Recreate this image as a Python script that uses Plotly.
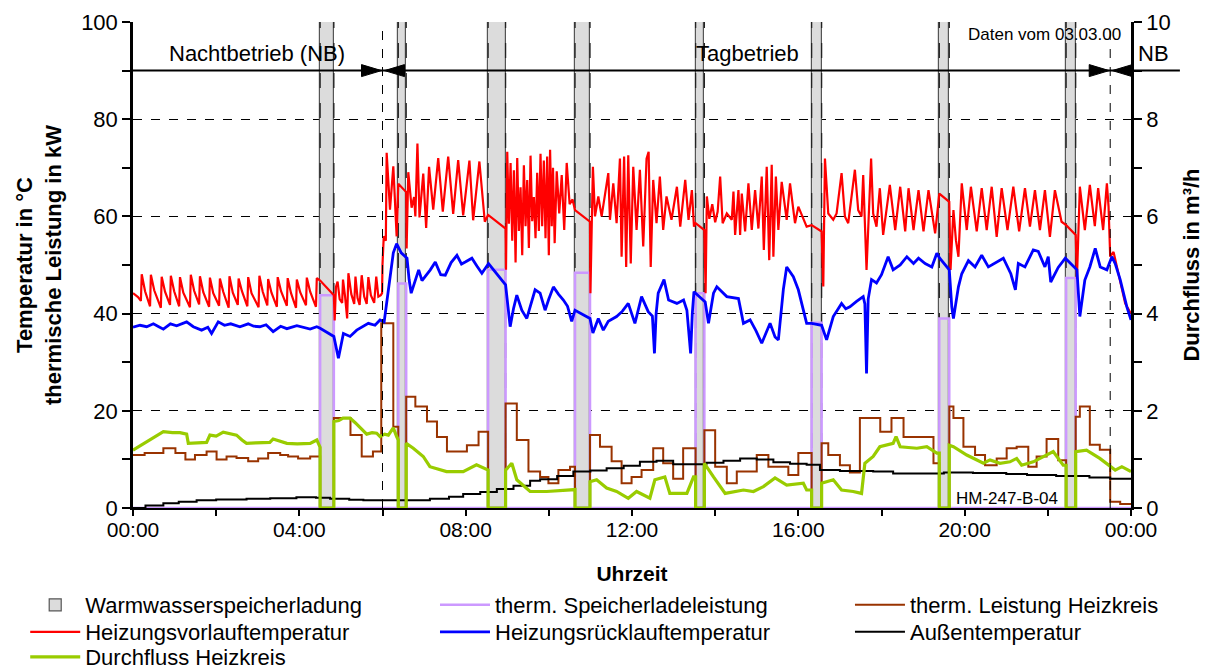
import plotly.graph_objects as go

# ---------------- data (time in hours of the day) ----------------
# Warmwasserspeicherladung: start / end of each storage charging period
band_start = [4.50, 6.38, 8.54, 10.63, 13.53, 16.32, 19.39, 22.44]
band_end = [4.83, 6.57, 8.96, 10.99, 13.74, 16.56, 19.63, 22.67]
# therm. Speicherladeleistung during each charging period (kW)
charge_power = [43.8, 46.2, 49.0, 48.4, 44.2, 38.1, 39.0, 47.3]

# Nacht-/Tagbetrieb switch times
switch_day = 6.0
switch_night = 23.5

# therm. Leistung Heizkreis (kW), step values starting at each time
heat_t = [0.0, 0.28, 0.73, 1.02, 1.26, 1.49, 1.77, 2.01, 2.25, 2.49, 2.77, 3.01, 3.25, 3.54, 3.73, 3.97,
          4.26, 4.50, 4.83, 5.23, 5.50, 5.77, 5.97, 6.26, 6.38, 6.57, 6.79, 7.07, 7.31, 7.55, 8.03,
          8.31, 8.54, 8.96, 9.23, 9.51, 9.79, 9.99, 10.23, 10.51, 10.63, 10.99, 11.23, 11.51, 11.75,
          11.99, 12.23, 12.51, 12.75, 12.99, 13.23, 13.53, 13.74, 14.00, 14.28, 14.52, 15.00, 15.28,
          15.76, 16.00, 16.32, 16.56, 16.72, 17.00, 17.24, 17.48, 17.97, 18.24, 18.53, 19.25, 19.39,
          19.63, 19.73, 19.97, 20.25, 20.49, 20.77, 21.01, 21.25, 21.53, 21.73, 21.97, 22.25, 22.44,
          22.67, 22.77, 23.01, 23.25, 23.50, 23.74, 24.0]
heat_v = [10.9, 11.3, 12.3, 11.3, 10.0, 10.9, 11.6, 10.0, 10.6, 10.3, 9.6, 10.2, 11.3, 10.9, 10.6, 10.2,
          10.6, 0.0, 18.5, 15.0, 10.6, 11.6, 38.0, 16.7, 0.0, 22.9, 20.9, 17.8, 14.6, 11.6, 12.9,
          15.7, 0.0, 21.5, 14.0, 7.5, 6.4, 5.1, 7.8, 8.5, 0.0, 15.0, 12.6, 9.6, 5.1,
          6.4, 7.8, 12.3, 9.2, 6.0, 12.3, 0.0, 16.0, 8.5, 5.1, 7.5, 10.9, 8.5,
          6.8, 11.3, 0.0, 13.3, 10.9, 8.8, 7.3, 18.5, 15.7, 18.5, 14.6, 9.2, 0.0,
          20.9, 18.5, 12.6, 10.9, 8.8, 10.2, 12.3, 12.6, 8.5, 10.6, 14.2, 9.8, 0.0,
          18.8, 20.9, 13.0, 12.0, 1.3, 0.8, 0.8]

# Heizungsvorlauftemperatur (°C)
flow_t = [0.00, 0.12, 0.19, 0.21, 0.29, 0.41, 0.43, 0.51, 0.67, 0.69, 0.77, 0.89, 0.91, 0.99, 1.11, 1.13,
          1.21, 1.37, 1.39, 1.47, 1.59, 1.61, 1.69, 1.83, 1.85, 1.93, 2.07, 2.09, 2.17, 2.30, 2.32, 2.40,
          2.52, 2.54, 2.62, 2.75, 2.77, 2.85, 3.02, 3.04, 3.12, 3.23, 3.25, 3.33, 3.46, 3.48, 3.56, 3.70,
          3.72, 3.80, 3.92, 3.94, 4.02, 4.16, 4.18, 4.26, 4.40, 4.42, 4.50,
          4.83, 4.85, 4.88, 4.92, 4.97, 5.03, 5.05, 5.10, 5.15, 5.18, 5.25, 5.32, 5.35, 5.40, 5.45, 5.50,
          5.56, 5.62, 5.66, 5.72, 5.80, 5.85, 5.90, 5.96, 5.99, 6.00, 6.03, 6.08, 6.10, 6.18, 6.26, 6.34,
          6.38, 6.57, 6.58, 6.62, 6.70, 6.76, 6.79, 6.84, 6.89, 6.98, 7.05, 7.12, 7.22, 7.34, 7.45, 7.58,
          7.70, 7.82, 7.94, 8.09, 8.18, 8.33, 8.46, 8.54,
          8.96, 8.97, 9.00, 9.04, 9.08, 9.12, 9.16, 9.20, 9.24, 9.28, 9.32, 9.36, 9.40, 9.44, 9.48, 9.52,
          9.56, 9.60, 9.64, 9.68, 9.72, 9.76, 9.80, 9.84, 9.88, 9.92, 9.96, 10.00, 10.03, 10.07, 10.10,
          10.14, 10.19, 10.25, 10.31, 10.37, 10.43, 10.50, 10.57, 10.63,
          10.99, 11.00, 11.06, 11.11, 11.19, 11.27, 11.43, 11.47, 11.55, 11.63, 11.71, 11.75, 11.81, 11.86,
          11.91, 11.97, 12.03, 12.11, 12.19, 12.27, 12.35, 12.40, 12.45, 12.51, 12.59, 12.67, 12.75, 12.83,
          12.95, 13.08, 13.16, 13.28, 13.36, 13.44, 13.49, 13.53,
          13.74, 13.77, 13.80, 13.86, 13.93, 14.00, 14.06, 14.12, 14.18, 14.28, 14.40, 14.44, 14.48, 14.56,
          14.60, 14.64, 14.72, 14.80, 14.88, 14.96, 15.04, 15.12, 15.17, 15.24, 15.30, 15.36, 15.40, 15.46,
          15.52, 15.60, 15.72, 15.80, 15.92, 16.00, 16.12, 16.20, 16.32,
          16.56, 16.60, 16.64, 16.72, 16.84, 16.92, 17.04, 17.12, 17.20, 17.36, 17.44, 17.52, 17.56, 17.64,
          17.75, 17.80, 17.88, 17.96, 18.04, 18.20, 18.33, 18.45, 18.57, 18.65, 18.77, 18.89, 19.01, 19.13,
          19.29, 19.39,
          19.63, 19.66, 19.73, 19.79, 19.85, 19.93, 20.05, 20.15, 20.29, 20.41, 20.53, 20.65, 20.77, 20.89,
          21.03, 21.17, 21.31, 21.45, 21.57, 21.69, 21.81, 21.93, 22.05, 22.17, 22.33, 22.44,
          22.67, 22.70, 22.77, 22.89, 23.01, 23.13, 23.21, 23.33, 23.42, 23.46, 23.50, 23.58, 23.74, 23.86,
          24.00]
flow_v = [44.2, 43.4, 42.6, 48.1, 44.6, 41.5, 48.0, 44.8, 41.2, 47.6, 44.5, 41.8, 47.8, 44.6, 41.5, 47.5,
          44.3, 41.3, 48.0, 44.7, 41.9, 47.7, 44.4, 41.4, 47.4, 44.2, 41.6, 47.2, 44.5, 41.2, 47.7, 44.3,
          41.8, 47.2, 44.6, 41.5, 47.5, 44.2, 41.3, 47.8, 44.5, 41.7, 47.1, 44.3, 41.4, 47.5, 44.6, 41.6,
          47.3, 44.2, 41.2, 47.0, 44.4, 41.7, 47.4, 44.5, 41.4, 47.3, 46.8,
          43.8, 38.6, 45.5, 46.6, 43.0, 42.2, 47.0, 43.5, 39.0, 48.3, 44.0, 42.0, 47.6, 43.2, 41.8, 47.9,
          43.5, 42.0, 47.5, 43.8, 42.2, 47.6, 43.5, 43.8, 44.2, 50.1, 55.9, 55.0, 73.1, 61.4, 70.3, 55.9,
          66.7, 65.0, 53.4, 69.1, 61.8, 64.0, 60.0, 75.0, 59.8, 68.8, 57.6, 70.2, 61.4, 72.0, 61.0, 72.3,
          60.5, 71.6, 60.2, 71.5, 59.2, 71.3, 58.9, 60.3,
          57.5, 49.0, 73.3, 58.5, 71.0, 55.0, 69.5, 50.5, 72.0, 57.0, 66.0, 52.0, 70.5, 58.0, 67.5, 53.5,
          72.5, 59.0, 64.0, 55.5, 69.0, 57.0, 72.9, 58.0, 71.5, 55.5, 72.3, 52.0, 73.7, 58.0, 70.0,
          54.5, 69.3, 60.6, 68.5, 57.2, 71.0, 62.5, 63.5, 61.3,
          58.9, 44.2, 70.2, 60.0, 64.1, 60.0, 68.9, 59.3, 66.8, 58.6, 71.9, 51.7, 72.3, 49.6,
          72.6, 50.3, 70.2, 57.2, 69.6, 53.8, 71.9, 73.3, 49.6, 67.5, 58.6, 68.2, 57.2, 64.1,
          59.3, 66.1, 57.9, 67.5, 59.3, 65.4, 57.9, 58.6,
          57.2, 44.2, 64.1, 59.5, 62.5, 58.8, 61.0, 68.2, 58.6, 60.6, 59.3, 65.1, 56.2, 65.4,
          56.2, 64.7, 56.9, 66.8, 57.2, 65.4, 57.5, 68.2, 53.1, 70.2, 51.0, 70.6, 51.7, 68.2,
          57.2, 67.1, 59.3, 66.8, 58.6, 62.0, 59.3, 57.9, 58.2,
          56.9, 45.6, 71.9, 60.6, 59.3, 60.6, 68.9, 60.0, 58.6, 69.6, 61.3, 60.0, 68.5, 49.0,
          71.9, 60.6, 57.9, 65.8, 56.2, 66.5, 57.2, 66.1, 56.9, 65.8, 57.2, 65.4, 56.9, 65.4,
          56.5, 64.7,
          63.0, 49.0, 61.3, 55.1, 51.7, 66.8, 57.2, 66.1, 56.9, 65.8, 57.2, 66.1, 55.8, 65.8,
          57.2, 66.1, 56.9, 65.8, 57.9, 65.4, 57.2, 65.4, 55.8, 65.4, 58.9, 58.2,
          56.2, 47.2, 66.1, 57.2, 66.5, 58.0, 65.8, 57.2, 66.8, 62.0, 51.7, 52.7, 47.0, 42.1,
          40.0]

# Heizungsrücklauftemperatur (°C)
return_t = [0.00, 0.17, 0.33, 0.49, 0.62, 0.73, 0.90, 1.05, 1.29, 1.45, 1.65, 1.80, 1.89, 2.05, 2.20, 2.35,
            2.57, 2.77, 2.90, 3.05, 3.20, 3.37, 3.55, 3.70, 3.94, 4.10, 4.26, 4.42, 4.50, 4.83, 4.94, 5.06,
            5.22, 5.38, 5.54, 5.66, 5.82, 5.94, 6.04, 6.10, 6.18, 6.26, 6.34, 6.45, 6.59, 6.64, 6.69, 6.78,
            6.87, 6.95, 7.03, 7.15, 7.27, 7.40, 7.51, 7.65, 7.79, 7.90, 7.99, 8.15, 8.27, 8.39, 8.55, 8.96,
            9.07, 9.15, 9.23, 9.35, 9.47, 9.58, 9.67, 9.79, 9.91, 10.00, 10.11, 10.23, 10.35, 10.45, 10.55,
            10.63, 10.99, 11.06, 11.19, 11.31, 11.43, 11.63, 11.77, 11.91, 12.07, 12.23, 12.39, 12.49,
            12.54, 12.58, 12.63, 12.77, 12.88, 13.08, 13.24, 13.32, 13.41, 13.45, 13.49, 13.76, 13.84,
            13.96, 14.04, 14.28, 14.56, 14.68, 14.84, 14.98, 15.12, 15.32, 15.44, 15.52, 15.56, 15.64,
            15.72, 15.88, 16.00, 16.20, 16.32, 16.56, 16.68, 16.84, 16.96, 17.04, 17.14, 17.24, 17.40,
            17.56, 17.60, 17.64, 17.68, 17.76, 17.88, 18.00, 18.16, 18.28, 18.45, 18.61, 18.77, 18.89,
            19.05, 19.21, 19.33, 19.40, 19.63, 19.69, 19.73, 19.85, 19.93, 20.09, 20.25, 20.41, 20.57,
            20.77, 20.93, 21.11, 21.22, 21.29, 21.45, 21.65, 21.77, 21.93, 22.01, 22.07, 22.25, 22.42,
            22.70, 22.77, 22.89, 23.01, 23.14, 23.26, 23.42, 23.54, 23.62, 23.74, 23.90, 24.00]
return_v = [37.2, 37.6, 37.3, 37.9, 37.3, 36.8, 37.9, 37.5, 38.3, 37.3, 36.6, 37.2, 35.9, 38.3, 37.6, 37.9,
            37.3, 37.9, 37.4, 37.3, 37.7, 36.3, 37.4, 36.9, 37.5, 37.2, 36.8, 37.3, 37.0, 35.3, 30.8, 35.9,
            35.3, 36.6, 37.4, 38.0, 37.6, 38.7, 38.3, 42.0, 48.0, 52.5, 54.4, 52.5, 51.4, 47.0, 44.2, 46.5,
            49.0, 46.8, 47.6, 49.0, 50.6, 48.0, 47.9, 50.5, 52.0, 50.2, 50.6, 51.4, 49.8, 48.3, 50.3, 45.9,
            37.3, 41.0, 43.8, 40.7, 39.0, 42.0, 44.9, 44.2, 40.7, 43.0, 45.5, 44.0, 42.8, 41.5, 38.4,
            40.7, 39.0, 36.0, 39.0, 36.6, 38.4, 39.4, 40.5, 42.1, 38.0, 43.5, 40.4, 39.5,
            31.8, 40.0, 44.2, 47.0, 42.8, 42.1, 42.8, 40.7, 31.8, 40.0, 44.5, 42.4, 38.0,
            44.2, 45.5, 43.5, 43.1, 38.0, 38.7, 36.5, 33.9, 38.0, 35.2, 34.6, 38.0, 45.0,
            49.6, 47.6, 44.9, 38.0, 38.0, 37.6, 34.6, 39.4, 41.0, 42.1, 41.0, 41.4, 42.5,
            43.5, 42.0, 27.7, 43.0, 47.0, 46.3, 48.0, 51.7, 49.0, 50.0, 51.7, 50.3, 51.4,
            50.3, 49.6, 52.4, 51.4, 49.0, 41.4, 39.0, 45.5, 48.2, 50.9, 49.6, 52.0, 49.6,
            50.6, 51.4, 48.2, 44.9, 50.3, 49.6, 53.1, 52.8, 49.6, 51.7, 46.5, 49.5, 51.4,
            49.0, 39.4, 46.9, 49.6, 53.4, 49.6, 49.0, 51.7, 50.3, 47.0, 41.4, 38.7]

# Außentemperatur (°C)
outdoor_t = [0.0, 0.3, 0.73, 1.1, 1.53, 2.0, 2.73, 3.3, 3.93, 4.4, 4.74, 5.2, 5.54, 6.34, 7.14, 7.6, 7.94,
             8.35, 8.75, 9.15, 9.55, 9.79, 10.2, 10.59, 11.0, 11.39, 11.8, 12.19, 12.59, 12.99, 13.4, 13.79,
             14.2, 14.6, 15.0, 15.4, 15.8, 16.2, 16.52, 17.0, 17.8, 18.28, 18.8, 19.5, 20.2, 21.0, 21.5,
             22.2, 23.0, 23.5, 24.0]
outdoor_v = [0.0, 0.5, 1.0, 1.3, 1.6, 1.75, 1.9, 2.0, 2.2, 2.1, 1.9, 1.7, 1.6, 1.6, 1.9, 2.3, 2.9,
             3.3, 3.9, 4.6, 5.6, 5.9, 6.6, 7.5, 7.7, 8.2, 8.7, 9.5, 9.7, 9.0, 9.0, 9.3,
             9.7, 10.2, 10.0, 9.4, 9.1, 8.9, 7.8, 7.6, 7.5, 7.1, 7.1, 7.3, 7.2, 7.0, 6.8,
             6.6, 6.3, 6.0, 5.8]

# Durchfluss Heizkreis (m³/h)
flow_rate_t = [0.00, 0.17, 0.41, 0.60, 0.73, 0.95, 1.13, 1.29, 1.33, 1.55, 1.77, 1.85, 2.00, 2.17, 2.35, 2.49,
               2.62, 2.73, 2.95, 3.15, 3.29, 3.37, 3.50, 3.70, 3.95, 4.26, 4.42, 4.48, 4.50, 4.50, 4.83,
               4.83, 4.95, 5.05, 5.22, 5.35, 5.46, 5.62, 5.75, 5.86, 5.94, 6.05, 6.14, 6.26, 6.34, 6.38,
               6.38, 6.57, 6.57, 6.74, 6.98, 7.14, 7.54, 7.94, 8.26, 8.50, 8.54, 8.54, 8.96, 8.96, 9.11,
               9.23, 9.55, 9.95, 10.20, 10.45, 10.63, 10.63, 10.99, 10.99, 11.15, 11.39, 11.63, 11.91,
               12.11, 12.43, 12.55, 12.79, 12.91, 13.32, 13.48, 13.53, 13.53, 13.74, 13.74, 13.96, 14.24,
               14.68, 14.92, 15.16, 15.44, 15.72, 16.12, 16.20, 16.32, 16.32, 16.56, 16.56, 16.84, 17.04,
               17.32, 17.52, 17.60, 17.80, 17.96, 18.28, 18.35, 18.45, 18.85, 19.09, 19.33, 19.39, 19.39,
               19.63, 19.63, 19.73, 20.05, 20.45, 20.61, 20.85, 21.09, 21.25, 21.37, 21.65, 21.89, 22.13,
               22.37, 22.44, 22.44, 22.67, 22.67, 22.93, 23.25, 23.50, 23.62, 23.78, 24.00]
flow_rate_v = [1.19, 1.28, 1.40, 1.50, 1.57, 1.55, 1.55, 1.52, 1.33, 1.34, 1.35, 1.50, 1.48, 1.56, 1.52, 1.50,
               1.40, 1.33, 1.34, 1.35, 1.35, 1.42, 1.38, 1.33, 1.32, 1.33, 1.40, 1.25, 1.25, 0.0, 0.0,
               1.78, 1.80, 1.85, 1.85, 1.75, 1.65, 1.52, 1.55, 1.54, 1.47, 1.52, 1.50, 1.65, 1.47, 1.40,
               0.0, 0.0, 1.33, 1.23, 1.06, 0.85, 0.75, 0.75, 0.89, 0.78, 0.78, 0.0, 0.0, 0.78, 0.92,
               0.58, 0.34, 0.34, 0.36, 0.37, 0.38, 0.0, 0.0, 0.54, 0.58, 0.41, 0.34, 0.20,
               0.34, 0.20, 0.58, 0.64, 0.30, 0.30, 0.64, 0.64, 0.0, 0.0, 0.92, 0.64, 0.30,
               0.37, 0.34, 0.44, 0.62, 0.47, 0.51, 0.37, 0.37, 0.0, 0.0, 0.51, 0.58, 0.37,
               0.34, 0.30, 0.92, 1.06, 1.26, 1.33, 1.47, 1.26, 1.23, 1.26, 1.13, 1.13, 0.0,
               0.0, 1.29, 1.26, 1.09, 0.92, 0.99, 0.92, 0.95, 1.02, 0.88, 0.95, 1.06, 1.16,
               0.88, 0.88, 0.0, 0.0, 1.16, 1.19, 1.02, 0.85, 0.78, 0.85, 0.75]

hour_ticks = [0, 4, 8, 12, 16, 20, 24]
hour_labels = ["00:00", "04:00", "08:00", "12:00", "16:00", "20:00", "00:00"]
temp_ticks = [0, 20, 40, 60, 80, 100]
flow_ticks = [0, 2, 4, 6, 8, 10]

FONT = "Liberation Sans, Arial, sans-serif"

# ---------------- traces ----------------
band_mid = [(s + e) / 2 for s, e in zip(band_start, band_end)]
band_width = [e - s for s, e in zip(band_start, band_end)]

# dashed edges of the charging periods
edge_x, edge_y = [], []
for s, e in zip(band_start, band_end):
    edge_x += [s, s, None, e, e, None]
    edge_y += [0, 100, None, 0, 100, None]

# storage charging power: zero outside the charging periods
charge_x, charge_y = [0.0], [0.0]
for s, e, p in zip(band_start, band_end, charge_power):
    charge_x += [s, e]
    charge_y += [p, 0.0]
charge_x.append(24.0)
charge_y.append(0.0)

# each legend entry gets its own small legend box (3 columns x 3 rows)
col_x = [-0.108, 0.3026, 0.7184]
row_y = [-0.1996, -0.2551, -0.3066]
legend_slots = [(0, 0), (1, 0), (2, 0), (0, 1), (1, 1), (2, 1), (0, 2)]

fig = go.Figure()
fig.add_trace(go.Bar(
    x=band_mid, y=[100] * len(band_mid), width=band_width, base=0,
    marker=dict(color="#dcdcdc", line=dict(color="#555555", width=1.2)),
    name="Warmwasserspeicherladung", legend="legend", hoverinfo="skip"))
fig.add_trace(go.Scatter(
    x=edge_x, y=edge_y, mode="lines", line=dict(color="#222222", width=1.3, dash="longdash"),
    showlegend=False, hoverinfo="skip"))
fig.add_trace(go.Scatter(
    x=charge_x, y=charge_y, mode="lines", line=dict(color="#cc99ff", width=2.5, shape="hv"),
    name="therm. Speicherladeleistung", legend="legend2"))
fig.add_trace(go.Scatter(
    x=heat_t, y=heat_v, mode="lines", line=dict(color="#993300", width=2, shape="hv"),
    name="therm. Leistung Heizkreis", legend="legend3"))
fig.add_trace(go.Scatter(
    x=flow_t, y=flow_v, mode="lines", line=dict(color="#ff0000", width=2.2),
    name="Heizungsvorlauftemperatur", legend="legend4"))
fig.add_trace(go.Scatter(
    x=return_t, y=return_v, mode="lines", line=dict(color="#0000ff", width=2.8),
    name="Heizungsrücklauftemperatur", legend="legend5"))
fig.add_trace(go.Scatter(
    x=outdoor_t, y=outdoor_v, mode="lines", line=dict(color="#000000", width=2, shape="hv"),
    name="Außentemperatur", legend="legend6"))
fig.add_trace(go.Scatter(
    x=flow_rate_t, y=flow_rate_v, mode="lines", line=dict(color="#99cc00", width=3.2),
    name="Durchfluss Heizkreis", yaxis="y2", legend="legend7"))

legend_layout = {}
for i, (c, r) in enumerate(legend_slots):
    key = "legend" if i == 0 else "legend%d" % (i + 1)
    legend_layout[key] = dict(
        x=col_x[c], xanchor="left", y=row_y[r], yanchor="middle", orientation="v",
        font=dict(size=22, family=FONT, color="black"), itemwidth=50,
        bgcolor="rgba(0,0,0,0)", borderwidth=0)

# ---------------- operating-mode markers ----------------
shapes = []
for xs in (switch_day, switch_night):
    shapes.append(dict(type="line", xref="x", yref="y", x0=xs, x1=xs, y0=0, y1=100,
                       line=dict(color="black", width=1, dash="dash")))
# horizontal mode bar at 90, running past the right axis
shapes.append(dict(type="line", xref="paper", yref="paper", x0=0, x1=1.049, y0=0.9, y1=0.9,
                   line=dict(color="black", width=2)))
# arrow heads meeting at each switch time
for xs in (switch_day, switch_night):
    shapes.append(dict(type="path", xref="x", yref="y", xsizemode="pixel", ysizemode="pixel",
                       xanchor=xs, yanchor=90, path="M-1,0 L-21,6 L-21,-6 Z",
                       fillcolor="black", line=dict(color="black", width=1)))
    shapes.append(dict(type="path", xref="x", yref="y", xsizemode="pixel", ysizemode="pixel",
                       xanchor=xs, yanchor=90, path="M2,0 L22,6 L22,-6 Z",
                       fillcolor="black", line=dict(color="black", width=1)))

annotations = [
    dict(x=2.97, y=93.6, xref="x", yref="y", text="Nachtbetrieb (NB)", showarrow=False,
         xanchor="center", font=dict(size=22, color="black", family=FONT)),
    dict(x=14.77, y=93.6, xref="x", yref="y", text="Tagbetrieb", showarrow=False,
         xanchor="center", font=dict(size=22, color="black", family=FONT)),
    dict(x=1.023, y=93.6, xref="paper", yref="y", text="NB", showarrow=False,
         xanchor="center", font=dict(size=22, color="black", family=FONT)),
    dict(x=23.8, y=97.4, xref="x", yref="y", text="Daten vom 03.03.00", showarrow=False,
         xanchor="right", font=dict(size=17, color="black", family=FONT)),
    dict(x=21.02, y=1.9, xref="x", yref="y", text="HM-247-B-04", showarrow=False,
         xanchor="center", font=dict(size=17, color="black", family=FONT)),
]

fig.update_layout(
    width=1213, height=671,
    margin=dict(l=133, r=82, t=22, b=163, autoexpand=False),
    paper_bgcolor="white", plot_bgcolor="white",
    font=dict(family=FONT, size=22, color="black"),
    showlegend=True,
    bargap=0,
    xaxis=dict(range=[0, 24], tickvals=hour_ticks, ticktext=hour_labels, ticks="outside",
               ticklen=6, tickwidth=1.5, tickcolor="black", showgrid=False, zeroline=False,
               showline=True, linecolor="black", linewidth=2, layer="below traces",
               ticklabelstandoff=-4,
               minor=dict(dtick=2, ticks="outside", ticklen=6, tickwidth=1.5, tickcolor="black"),
               title=dict(text="<b>Uhrzeit</b>", font=dict(size=21, family=FONT), standoff=26),
               tickfont=dict(size=21, family=FONT)),
    yaxis=dict(range=[0, 100], tickvals=temp_ticks, ticks="outside", ticklen=8, tickwidth=1.5,
               tickcolor="black", showgrid=True, gridcolor="black", griddash="dash", gridwidth=1,
               zeroline=False, showline=True, linecolor="black", linewidth=2.5,
               minor=dict(dtick=10, ticks="outside", ticklen=8, tickwidth=1.5, tickcolor="black",
                          showgrid=False),
               title=dict(text="<b>Temperatur in °C</b><br><b>thermische Leistung in kW</b>",
                          font=dict(size=22, family=FONT), standoff=14),
               tickfont=dict(size=22, family=FONT)),
    yaxis2=dict(range=[0, 10], tickvals=flow_ticks, overlaying="y", side="right", ticks="outside",
                ticklen=8, tickwidth=1.5, tickcolor="black", showgrid=False, zeroline=False,
                showline=True, linecolor="black", linewidth=2.5,
                minor=dict(dtick=1, ticks="outside", ticklen=8, tickwidth=1.5, tickcolor="black"),
                title=dict(text="<b>Durchfluss in m³/h</b>", font=dict(size=22, family=FONT),
                           standoff=14),
                tickfont=dict(size=22, family=FONT)),
    shapes=shapes,
    annotations=annotations,
    **legend_layout,
)

fig.write_html("out.html")
